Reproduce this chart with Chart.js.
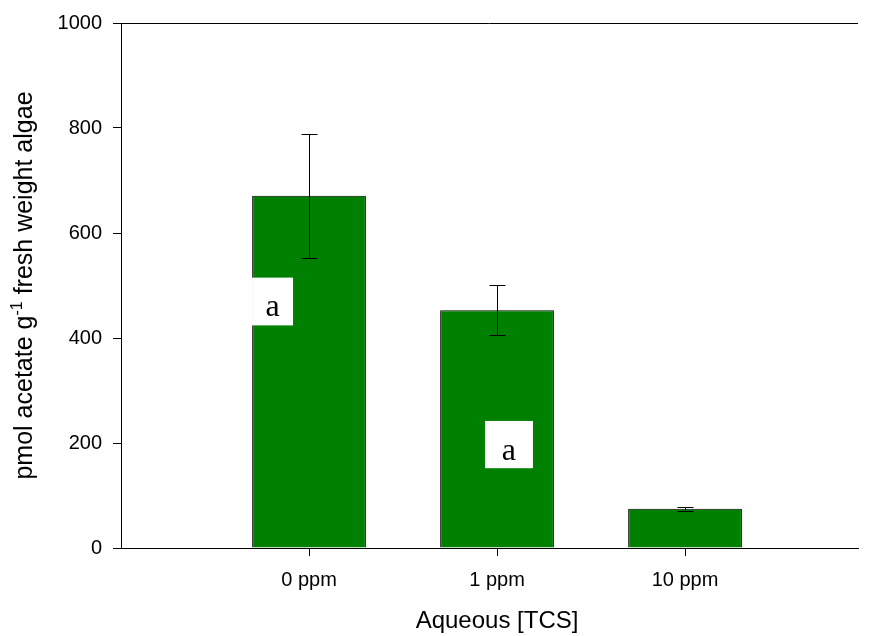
<!DOCTYPE html>
<html>
<head>
<meta charset="utf-8">
<script src="https://cdn.jsdelivr.net/npm/chart.js@4"></script>
<style>
  html, body { margin: 0; padding: 0; background: #fff; }
  #wrap { width: 870px; height: 636px; }
</style>
</head>
<body>
<div id="wrap"><canvas id="myChart" width="870" height="636"></canvas></div>
<script>
// data
const categories = ["0 ppm", "1 ppm", "10 ppm"];
const acetate = [671, 453, 75];
const acetateErr = [118, 48, 4];
const yTicks = [0, 200, 400, 600, 800, 1000];
const letters = ["a", "a"];

// white letter boxes, in data units (x slot, y value)
const letterBoxes = [
  { x0: 0.697, x1: 0.915, y0: 515, y1: 424, base: 441 },
  { x0: 1.936, x1: 2.191, y0: 242, y1: 152, base: 167 }
];

const points = acetate.map((v, i) => ({ x: i + 1, y: v }));

const extras = {
  id: "extras",
  afterDatasetsDraw(chart) {
    const ctx = chart.ctx;
    const xs = chart.scales.x, ys = chart.scales.y;
    ctx.save();
    // error bars
    ctx.strokeStyle = "#000";
    ctx.lineWidth = 1;
    acetate.forEach((v, i) => {
      const px = Math.round(xs.getPixelForValue(i + 1)) + 0.5;
      const top = Math.round(ys.getPixelForValue(v + acetateErr[i])) + 0.5;
      const bot = Math.round(ys.getPixelForValue(v - acetateErr[i])) + 0.5;
      ctx.beginPath();
      ctx.moveTo(px, top); ctx.lineTo(px, bot);
      ctx.moveTo(px - 8, top); ctx.lineTo(px + 8, top);
      ctx.moveTo(px - 8, bot); ctx.lineTo(px + 8, bot);
      ctx.stroke();
    });
    // letter boxes
    letterBoxes.forEach((b, i) => {
      const l = xs.getPixelForValue(b.x0), r = xs.getPixelForValue(b.x1);
      const t = ys.getPixelForValue(b.y0), bt = ys.getPixelForValue(b.y1);
      ctx.fillStyle = "#fff";
      ctx.fillRect(l, t, r - l, bt - t);
      ctx.fillStyle = "#000";
      ctx.font = "32px 'Liberation Serif', 'Times New Roman', serif";
      ctx.textAlign = "center";
      ctx.textBaseline = "alphabetic";
      ctx.fillText(letters[i], (l + r) / 2, ys.getPixelForValue(b.base));
    });
    // top frame line
    const a = chart.chartArea;
    ctx.beginPath();
    ctx.moveTo(a.left, a.top + 0.5);
    ctx.lineTo(a.right, a.top + 0.5);
    ctx.stroke();
    ctx.restore();
  },
  afterDraw(chart) {
    const ctx = chart.ctx;
    const a = chart.chartArea;
    ctx.save();
    ctx.fillStyle = "#000";
    // x title
    ctx.font = "24px 'Liberation Sans', Arial, sans-serif";
    ctx.textAlign = "center";
    ctx.textBaseline = "alphabetic";
    ctx.fillText("Aqueous [TCS]", chart.scales.x.getPixelForValue(2), 628);
    // y title with superscript
    const big = "25px 'Liberation Sans', Arial, sans-serif";
    const small = "16px 'Liberation Sans', Arial, sans-serif";
    const p1 = "pmol acetate g", sup = "-1", p2 = " fresh weight algae";
    ctx.font = big;
    const w1 = ctx.measureText(p1).width, w3 = ctx.measureText(p2).width;
    ctx.font = small;
    const w2 = ctx.measureText(sup).width;
    const total = w1 + w2 + w3;
    ctx.translate(32, (a.top + a.bottom) / 2);
    ctx.rotate(-Math.PI / 2);
    ctx.textAlign = "left";
    let x = -total / 2;
    ctx.font = big; ctx.fillText(p1, x, 0); x += w1;
    ctx.font = small; ctx.fillText(sup, x, -10); x += w2;
    ctx.font = big; ctx.fillText(p2, x, 0);
    ctx.restore();
  }
};

new Chart(document.getElementById("myChart"), {
  type: "bar",
  data: {
    datasets: [{
      data: points,
      backgroundColor: "#008000",
      borderColor: "#000",
      borderWidth: 1,
      barPercentage: 0.605,
      categoryPercentage: 1
    }]
  },
  options: {
    responsive: false,
    animation: false,
    layout: { padding: { left: 0, right: 12, top: 18, bottom: 0 } },
    plugins: { legend: { display: false }, tooltip: { enabled: false } },
    scales: {
      x: {
        type: "linear",
        min: 0,
        max: 3.92,
        offset: false,
        afterBuildTicks(scale) { scale.ticks = categories.map((c, i) => ({ value: i + 1 })); },
        afterFit(scale) { scale.height = 88; },
        ticks: {
          callback: (v) => categories[v - 1],
          color: "#000",
          font: { family: "'Liberation Sans', Arial", size: 20 },
          padding: 12,
          maxRotation: 0
        },
        grid: { drawOnChartArea: false, offset: false, tickLength: 8, color: "#000" },
        border: { color: "#000", width: 1 }
      },
      y: {
        min: 0,
        max: 1000,
        afterBuildTicks(scale) { scale.ticks = yTicks.map(v => ({ value: v })); },
        afterFit(scale) { scale.width = 121; },
        ticks: {
          callback: (v) => String(v),
          color: "#000",
          font: { family: "'Liberation Sans', Arial", size: 20 },
          padding: 11
        },
        grid: { drawOnChartArea: false, tickLength: 8, color: "#000" },
        border: { color: "#000", width: 1 }
      }
    }
  },
  plugins: [extras]
});
</script>
</body>
</html>
